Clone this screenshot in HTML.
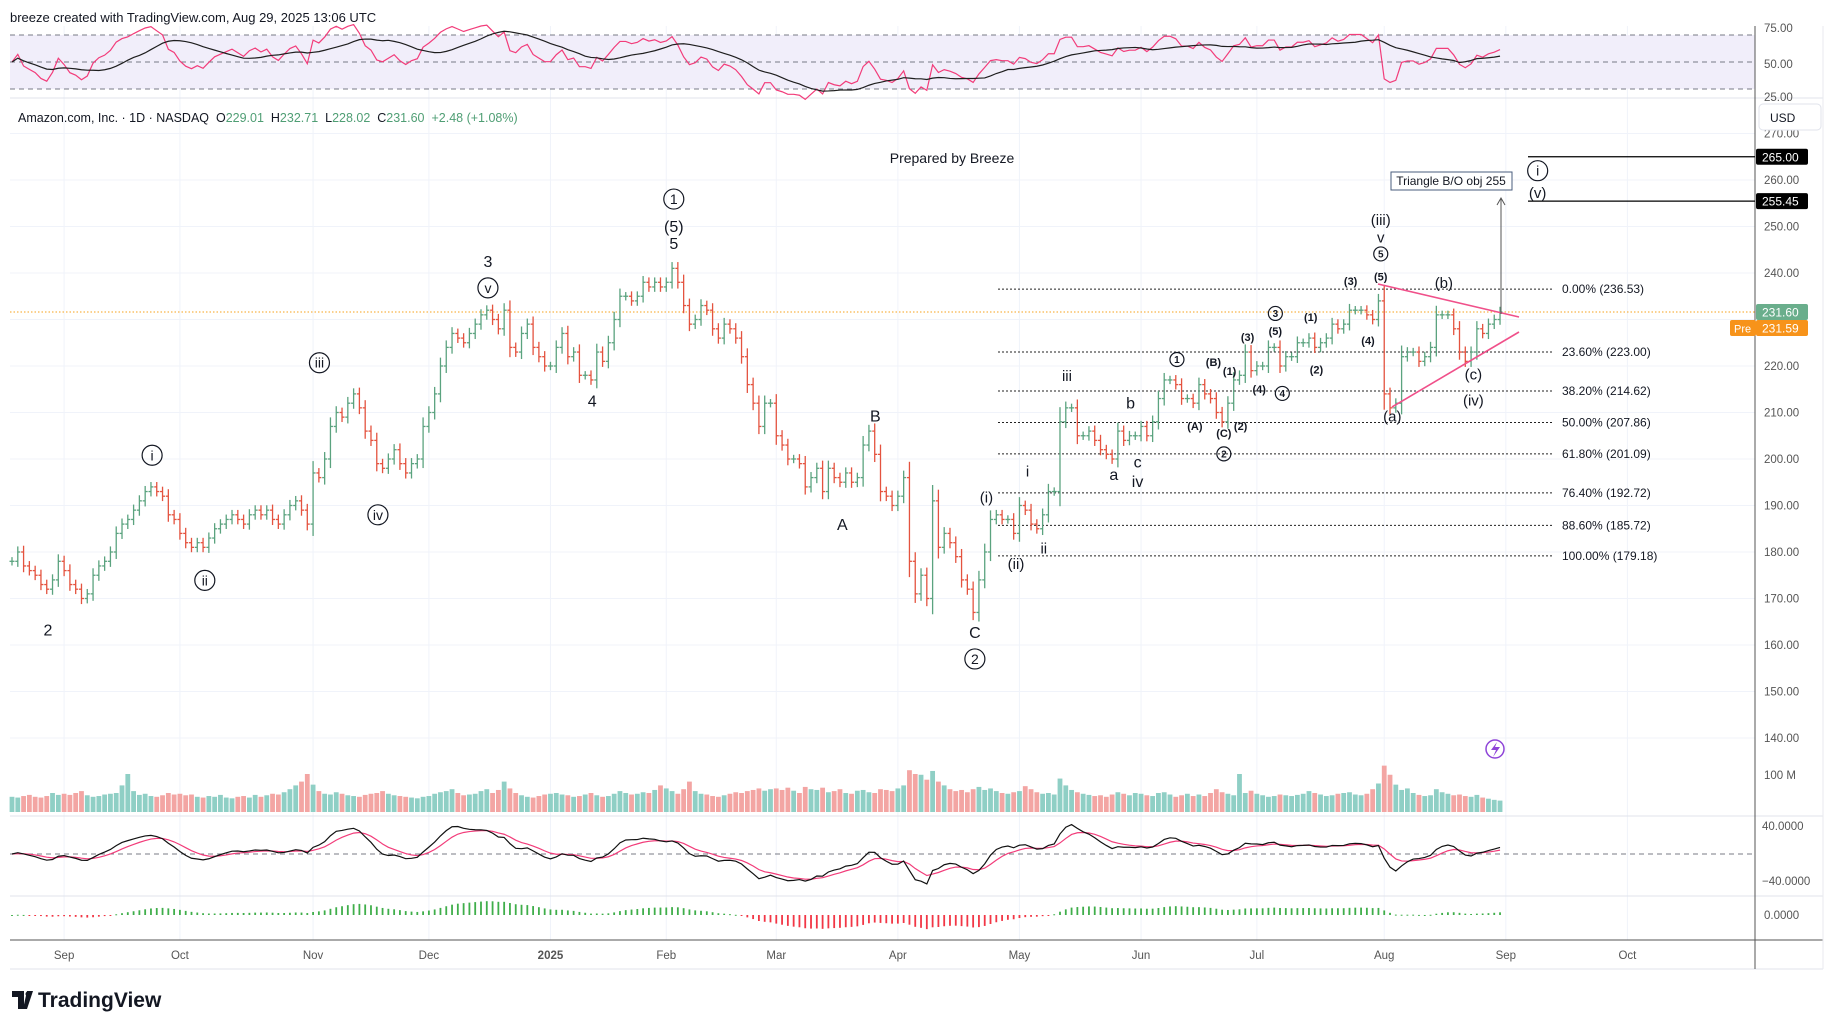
<!DOCTYPE html>
<html><head><meta charset="utf-8">
<style>
html,body{margin:0;padding:0;background:#fff;}
body{width:1835px;height:1029px;overflow:hidden;position:relative;font-family:"Liberation Sans",sans-serif;}
svg{position:absolute;left:0;top:0;}
text{font-family:"Liberation Sans",sans-serif;}
</style></head>
<body>
<svg id="chart" width="1835" height="1029" viewBox="0 0 1835 1029"></svg>
<script>
// ---- data ----
const months = ["Sep","Oct","Nov","Dec","2025","Feb","Mar","Apr","May","Jun","Jul","Aug","Sep","Oct"];
const monthIdx = [9,29,52,72,93,113,132,153,174,195,215,237,258,279];
const closes = [
178,180,177,176,175,173,172,174,178,
176,173,172,170,171,175,177,178,180,184,186,187,189,191,193,194,193,192,188,187,
184,182,181,182,181,183,185,186,187,188,187,186,188,189,188,189,187,186,188,190,191,189,186,
197,196,200,207,210,209,212,214,211,206,204,199,198,200,202,199,197,199,200,207,
210,214,220,224,227,226,225,227,229,231,232,230,228,232,224,223,227,229,224,222,220,
220,224,227,222,223,218,218,217,223,221,225,230,235,235,234,235,238,237,238,237,
238,241,238,233,229,230,233,232,228,226,229,228,226,222,216,212,207,212,212,
205,203,200,200,199,194,196,198,193,198,196,195,197,195,196,203,206,201,193,192,190,
192,196,178,171,175,170,191,181,184,182,179,174,172,167,174,180,187,188,187,187,184,
190,189,186,185,188,193,193,208,211,211,205,205,206,204,202,201,200,206,204,205,205,
207,205,208,213,217,217,216,213,213,212,216,214,213,210,208,212,217,218,223,219,
220,220,224,224,220,222,222,225,225,226,224,225,226,229,228,229,232,232,232,231,230,234,
214,211,212,222,223,223,221,222,224,231,231,231,228,223,221,223,228,227,229,230,231.6];
const volumes = [
40,38,42,45,40,38,42,50,45,
48,45,50,55,44,40,42,46,48,50,70,100,55,45,48,42,40,44,50,46,
48,44,46,40,38,42,40,45,38,36,40,42,38,45,40,44,48,46,52,60,70,80,100,
72,55,48,46,52,48,44,42,40,45,48,50,55,48,44,42,40,38,36,40,
42,48,52,55,60,50,44,46,48,55,60,50,58,80,62,50,44,40,38,42,46,
48,50,46,44,40,42,46,50,44,40,42,48,55,50,46,48,52,50,58,70,
62,55,48,60,80,55,48,46,42,40,44,48,52,50,55,58,62,56,60,
62,58,64,56,50,66,60,58,64,52,55,60,50,48,56,58,52,50,60,58,55,
62,70,110,100,98,85,108,80,70,60,55,58,52,60,66,58,62,55,50,48,52,
55,68,60,52,48,50,46,88,70,58,52,48,45,42,44,40,46,52,48,44,50,
48,44,42,50,52,46,40,44,48,42,46,42,50,60,52,48,44,100,50,56,
48,44,40,42,46,44,42,45,48,55,50,46,42,44,48,50,52,46,44,48,60,75,
122,98,72,58,62,50,45,42,44,60,52,48,44,46,42,40,45,38,35,32,30];
const fibPct = ["0.00%","23.60%","38.20%","50.00%","61.80%","76.40%","88.60%","100.00%"];
const fibVal = [236.53,223.00,214.62,207.86,201.09,192.72,185.72,179.18];
const priceTicks = [270,260,250,240,230,220,210,200,190,180,170,160,150,140];
// [text, bar index, center price, style]  style: t=plain, c=circled, s=small bold, sc=small circled, b=medium
const waveLabels = [
 ["2",6.2,163.3,"t"],["i",24.2,200.8,"c"],["ii",33.3,173.9,"c"],["iii",53.1,220.7,"c"],["iv",63.2,188.0,"c"],
 ["3",82.2,242.6,"t"],["v",82.2,236.8,"c"],["4",100.2,212.6,"t"],
 ["1",114.3,255.9,"c"],["(5)",114.3,250.1,"t"],["5",114.3,246.4,"t"],
 ["A",143.4,186.0,"t"],["B",149.1,209.4,"t"],["C",166.3,162.8,"t"],["2",166.3,157.0,"c"],
 ["(i)",168.3,191.7,"b"],["(ii)",173.4,177.4,"b"],["i",175.4,197.3,"b"],["ii",178.2,180.7,"b"],["iii",182.2,217.9,"b"],
 ["a",190.3,196.8,"t"],["b",193.2,212.1,"t"],["c",194.4,199.5,"t"],["iv",194.4,195.3,"t"],
 ["1",201.2,221.4,"sc"],["(A)",204.3,207.1,"s"],["(B)",207.5,220.9,"s"],["(1)",210.3,218.9,"s"],["(C)",209.3,205.6,"s"],
 ["(2)",212.2,207.1,"s"],["2",209.3,201.1,"sc"],["(3)",213.4,226.2,"s"],["3",218.2,231.3,"sc"],["(5)",218.2,227.5,"s"],
 ["(4)",215.4,215.1,"s"],["4",219.4,214.1,"sc"],["(1)",224.3,230.5,"s"],["(2)",225.3,219.2,"s"],["(3)",231.2,238.3,"s"],
 ["(4)",234.2,225.5,"s"],["(iii)",236.4,251.4,"b"],["v",236.4,247.6,"b"],["5",236.4,244.1,"sc"],["(5)",236.4,239.3,"s"],
 ["(b)",247.3,237.8,"b"],["(a)",238.4,209.1,"b"],["(c)",252.4,218.2,"b"],["(iv)",252.4,212.6,"b"],
 ["i",263.5,262.0,"c"],["(v)",263.5,257.2,"b"]];

// ---- scales ----
const X0=12, DX=5.79;
const xOf = i => X0 + i*DX;
const yOf = p => 273 + (240-p)*4.65;
const svg = document.getElementById('chart');
const NS="http://www.w3.org/2000/svg";
function mk(tag, attrs, parent){const e=document.createElementNS(NS,tag);for(const k in attrs)e.setAttribute(k,attrs[k]);(parent||svg).appendChild(e);return e;}
function txt(s, attrs, parent){const e=mk('text',attrs,parent);e.textContent=s;return e;}

// grid
const grid = mk('g',{});


priceTicks.forEach(p=>mk('line',{x1:10,x2:1755,y1:yOf(p),y2:yOf(p),stroke:'#f0f3fa','stroke-width':1},grid));
monthIdx.forEach(i=>mk('line',{x1:xOf(i),x2:xOf(i),y1:26,y2:940,stroke:'#f0f3fa','stroke-width':1},grid));
[98,816,896].forEach(y=>mk('line',{x1:10,x2:1823,y1:y,y2:y,stroke:'#e0e3eb','stroke-width':1},grid));

// header
const hdr = txt("breeze created with TradingView.com, Aug 29, 2025 13:06 UTC",{x:10,y:22,'font-size':13,fill:'#131722'});



// RSI pane
const rsiG = mk('g',{});


const rY = r => 62 - (r-50)*1.35;
mk('rect',{x:10,y:rY(70),width:1745,height:rY(30)-rY(70),fill:'#f1eefa'},rsiG);
[70,50,30].forEach(r=>mk('line',{x1:10,x2:1755,y1:rY(r),y2:rY(r),stroke:'#787b86','stroke-dasharray':'5,4','stroke-width':1},rsiG));
let ag=0.6, al=0.6; const rsi=[];
for(let i=0;i<closes.length;i++){
  if(i>0){const d=closes[i]-closes[i-1];ag=(ag*13+Math.max(d,0))/14;al=(al*13+Math.max(-d,0))/14;}
  rsi.push(100-100/(1+ag/al));
}
const rsiMa = rsi.map((v,i)=>{const s=rsi.slice(Math.max(0,i-13),i+1);return s.reduce((a,b)=>a+b,0)/s.length;});
const clampR = v=>Math.max(22,Math.min(78,v));
mk('polyline',{points:rsi.map((v,i)=>xOf(i)+','+rY(clampR(v))).join(' '),fill:'none',stroke:'#f23c7a','stroke-width':1.2},rsiG);
mk('polyline',{points:rsiMa.map((v,i)=>xOf(i)+','+rY(clampR(v))).join(' '),fill:'none',stroke:'#1e1e1e','stroke-width':1.2},rsiG);
[["75.00",28],["50.00",64],["25.00",97]].forEach(t=>txt(t[0],{x:1764,y:t[1]+4,'font-size':11.5,fill:'#555'},rsiG));

// legend
const leg = mk('text',{x:18,y:122,'font-size':12.5,fill:'#131722'});


leg.innerHTML='Amazon.com, Inc. · 1D · NASDAQ&#160; O<tspan fill="#4f9e74">229.01</tspan>&#160; H<tspan fill="#4f9e74">232.71</tspan>&#160; L<tspan fill="#4f9e74">228.02</tspan>&#160; C<tspan fill="#4f9e74">231.60</tspan>&#160; <tspan fill="#4f9e74">+2.48 (+1.08%)</tspan>';

// prepared by
const prep = txt("Prepared by Breeze",{x:952,y:163,'font-size':14,'text-anchor':'middle',fill:'#131722'});



// current price line
const cur = mk('line',{x1:10,x2:1755,y1:yOf(231.6),y2:yOf(231.6),stroke:'#f7a21b','stroke-dasharray':'1.5,2','stroke-width':1});



// fib
const fibG = mk('g',{});


fibVal.forEach((v,k)=>{
  const y=yOf(v);
  mk('line',{x1:998,x2:1554,y1:y,y2:y,stroke:'#222','stroke-dasharray':'2,2','stroke-width':1},fibG);
  const t=txt(fibPct[k]+' ('+v.toFixed(2)+')',{x:1562,y:y+4,'font-size':12,fill:'#131722'},fibG);
  
  
});

// bars
const barsG = mk('g',{});


closes.forEach((c,i)=>{
  const o = i===0?c:closes[i-1];
  const w = 0.9 + Math.min(Math.abs(c-o)*0.15,2.5);
  const h = Math.max(o,c)+w, l=Math.min(o,c)-w;
  const col = c>=o?'#5ba37f':'#e4533f';
  const x=xOf(i);
  const g=mk('g',{stroke:col,'stroke-width':1.3},barsG);
  
  
  mk('line',{x1:x,x2:x,y1:yOf(h),y2:yOf(l)},g);
  mk('line',{x1:x-2.5,x2:x,y1:yOf(o),y2:yOf(o)},g);
  mk('line',{x1:x,x2:x+2.5,y1:yOf(c),y2:yOf(c)},g);
});

// volume
const volG = mk('g',{});


volumes.forEach((v,i)=>{
  const up = i===0 || closes[i]>=closes[i-1];
  const r=mk('rect',{x:xOf(i)-2.4,y:812-v*0.38,width:4.8,height:v*0.38,fill:up?'#8fcfc5':'#f3a5a3'},volG);
  
  
});

// oscillators
function ema(arr,n){const k=2/(n+1);const out=[];arr.forEach((v,i)=>out.push(i?out[i-1]+k*(v-out[i-1]):v));return out;}
const e5=ema(closes,5), e13=ema(closes,13);
const osc = e5.map((v,i)=>v-e13[i]);
const sig = ema(osc,6);
const oscG = mk('g',{});


mk('line',{x1:10,x2:1755,y1:854,y2:854,stroke:'#787b86','stroke-dasharray':'5,4'},oscG);
const oY = v => Math.max(820,Math.min(892,854 - v*3.4));
mk('polyline',{points:sig.map((v,i)=>xOf(i)+','+oY(v)).join(' '),fill:'none',stroke:'#f23c7a','stroke-width':1.2},oscG);
mk('polyline',{points:osc.map((v,i)=>xOf(i)+','+oY(v)).join(' '),fill:'none',stroke:'#111','stroke-width':1.2},oscG);
txt("40.0000",{x:1762,y:830,'font-size':11.5,fill:'#555'},oscG);
txt("−40.0000",{x:1762,y:885,'font-size':11.5,fill:'#555'},oscG);

const e12=ema(closes,12), e26=ema(closes,26);
const macd = e12.map((v,i)=>v-e26[i]);
const histG = mk('g',{});


macd.forEach((v,i)=>{
  const hgt = Math.max(-22,Math.min(14,v*1.6));
  const r=mk('rect',{x:xOf(i)-0.9,y:hgt>=0?915-hgt:915,width:1.8,height:Math.max(1,Math.abs(hgt)),fill:hgt>=0?'#3fae4a':'#f23645'},histG);
  
  
});
txt("0.0000",{x:1764,y:919,'font-size':11.5,fill:'#555'},histG);

// time axis
const tax = mk('g',{});


mk('line',{x1:10,x2:1823,y1:940,y2:940,stroke:'#555'},tax);
mk('line',{x1:10,x2:1823,y1:969,y2:969,stroke:'#e0e3eb'},tax);
months.forEach((m,k)=>txt(m,{x:xOf(monthIdx[k]),y:959,'font-size':11.5,'text-anchor':'middle',fill:'#555','font-weight':m==='2025'?'bold':'normal'},tax));

// price axis
const pax = mk('g',{});


mk('line',{x1:1755,x2:1755,y1:26,y2:969,stroke:'#555'},pax);
mk('line',{x1:1823,x2:1823,y1:26,y2:969,stroke:'#e8eaef'},pax);
priceTicks.forEach(p=>{if(p!==230)txt(p.toFixed(2),{x:1764,y:yOf(p)+4,'font-size':11.5,fill:'#555'},pax);});
txt("100 M",{x:1764,y:779,'font-size':11.5,fill:'#555'},pax);
const usd=mk('g',{});


mk('rect',{x:1759,y:104,width:62,height:26,rx:4,fill:'#fff',stroke:'#e0e3eb'},usd);
txt("USD",{x:1770,y:122,'font-size':12,fill:'#131722'},usd);
function tag(val,y,bg,name){const g=mk('g',{});
  mk('rect',{x:1756,y:y-8,width:52,height:16,rx:2,fill:bg},g);txt(val,{x:1762,y:y+4.5,'font-size':12,fill:'#fff'},g);}
tag("265.00",yOf(265),'#000','target-265-tag');
tag("255.45",yOf(255.45),'#000','target-255-tag');
tag("231.60",yOf(231.6),'#6aae8c','last-price-tag');
tag("231.59",yOf(231.6)+16,'#f7931a','premarket-price-tag');
const pre=mk('g',{});
mk('rect',{x:1730,y:yOf(231.6)+8,width:26,height:16,rx:2,fill:'#f7931a'},pre);
txt("Pre",{x:1734,y:yOf(231.6)+20.5,'font-size':11,fill:'#fff'},pre);

// target lines
[265,255.45].forEach(v=>{const l=mk('line',{x1:1528,x2:1755,y1:yOf(v),y2:yOf(v),stroke:'#000','stroke-width':1.2});
  });

// triangle
const tri=mk('g',{stroke:'#f0508a','stroke-width':1.6});


mk('line',{x1:1378,y1:284,x2:1519,y2:317},tri);
mk('line',{x1:1392,y1:407,x2:1519,y2:332},tri);

// arrow + callout
const arr=mk('g',{});


mk('line',{x1:1501,y1:314,x2:1501,y2:199,stroke:'#555','stroke-width':1},arr);
mk('polyline',{points:'1497,205 1501,198 1505,205',fill:'none',stroke:'#555','stroke-width':1},arr);
const co=mk('g',{});


mk('rect',{x:1391,y:172,width:121,height:18,fill:'#fff',stroke:'#4a5d7e','stroke-width':1},co);
txt("Triangle B/O obj 255",{x:1451,y:185,'font-size':12,'text-anchor':'middle',fill:'#131722'},co);

// wave labels
const wl=mk('g',{fill:'#131722'});


function circ(cx,cy,r){mk('circle',{cx:cx,cy:cy,r:r,fill:'none',stroke:'#131722','stroke-width':1.2},wl);}
waveLabels.forEach(L=>{
  const x=xOf(L[1]), y=yOf(L[2]), s=L[3];
  if(s==='c'){circ(x,y,10);txt(L[0],{x:x,y:y+5,'font-size':14,'text-anchor':'middle'},wl);}
  else if(s==='sc'){circ(x,y,7);txt(L[0],{x:x,y:y+3.5,'font-size':10,'font-weight':'bold','text-anchor':'middle'},wl);}
  else if(s==='s'){txt(L[0],{x:x,y:y+4,'font-size':11,'font-weight':'bold','text-anchor':'middle'},wl);}
  else if(s==='b'){txt(L[0],{x:x,y:y+5,'font-size':15,'text-anchor':'middle'},wl);}
  else txt(L[0],{x:x,y:y+6,'font-size':16,'text-anchor':'middle'},wl);
});

// lightning icon
const li=mk('g',{});


mk('circle',{cx:1495,cy:749,r:9,fill:'none',stroke:'#8e44d8','stroke-width':1.5},li);
mk('path',{d:'M1497 742 L1491 750 L1496 750 L1493 757 L1500 747 L1495 747 Z',fill:'#8e44d8'},li);

// logo
const logo=mk('g',{});


mk('path',{d:'M12 991 h12 v18 h-6 v-12 h-6 z M27 991 h6 l-6 18 h-4 z',fill:'#131722'},logo);
mk('circle',{cx:28,cy:994,r:2.5,fill:'#131722'},logo);
txt("TradingView",{x:38,y:1007,'font-size':21,'font-weight':'bold',fill:'#131722'},logo);
</script>
</body></html>
